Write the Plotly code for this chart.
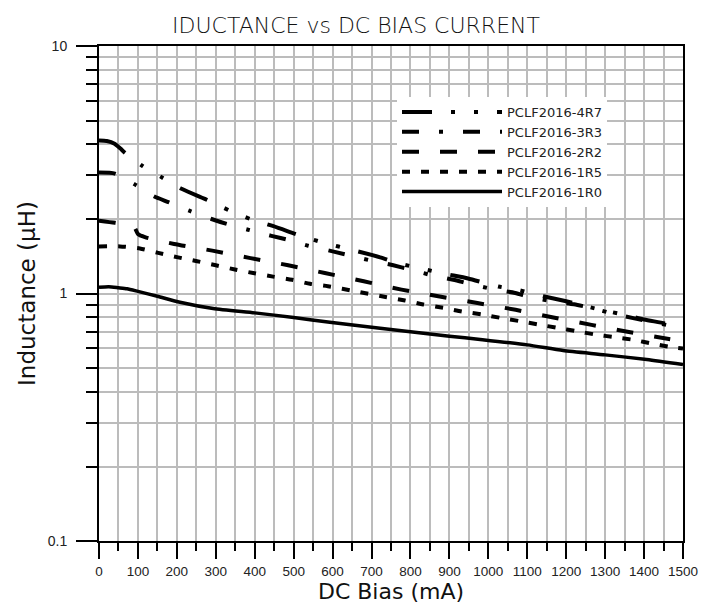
import plotly.graph_objects as go

# ---- data ----
names = ["PCLF2016-4R7", "PCLF2016-3R3", "PCLF2016-2R2", "PCLF2016-1R5", "PCLF2016-1R0"]

x_4r7 = [0, 20, 40, 55, 67, 110, 164, 212, 285, 336, 392, 448, 523, 580, 650, 722, 773, 829, 890, 948, 1026, 1081, 1141, 1200, 1274, 1334, 1400, 1454, 1500]
y_4r7 = [4.15, 4.13, 4.03, 3.85, 3.70, 3.29, 2.93, 2.65, 2.36, 2.16, 1.99, 1.87, 1.70, 1.60, 1.50, 1.40, 1.32, 1.26, 1.20, 1.15, 1.067, 1.03, 0.975, 0.93, 0.87, 0.83, 0.785, 0.757, 0.726]

x_3r3 = [0, 41, 92, 141, 178, 232, 289, 328, 383, 443, 490, 537, 600, 680, 756, 799, 850, 910, 952, 1008, 1069, 1107, 1165, 1220, 1274, 1321, 1381, 1424, 1460, 1500]
y_3r3 = [3.08, 3.05, 2.76, 2.47, 2.34, 2.16, 2.0, 1.91, 1.81, 1.71, 1.64, 1.56, 1.48, 1.38, 1.30, 1.25, 1.19, 1.136, 1.094, 1.044, 1.005, 0.966, 0.93, 0.905, 0.867, 0.828, 0.79, 0.765, 0.745, 0.724]

x_2r2 = [0, 41, 85, 92, 100, 118, 193, 291, 389, 486, 580, 680, 777, 875, 972, 1070, 1167, 1265, 1361, 1460, 1500]
y_2r2 = [1.97, 1.93, 1.87, 1.84, 1.74, 1.69, 1.585, 1.49, 1.39, 1.30, 1.21, 1.12, 1.037, 0.972, 0.915, 0.859, 0.80, 0.747, 0.699, 0.656, 0.64]

x_1r5 = [0, 54, 105, 152, 203, 252, 300, 349, 396, 447, 496, 542, 588, 660, 739, 786, 833, 884, 932, 983, 1030, 1081, 1128, 1176, 1227, 1274, 1325, 1372, 1423, 1471, 1500]
y_1r5 = [1.55, 1.55, 1.52, 1.46, 1.40, 1.35, 1.30, 1.25, 1.21, 1.17, 1.136, 1.094, 1.07, 1.02, 0.966, 0.937, 0.903, 0.875, 0.846, 0.823, 0.798, 0.773, 0.75, 0.727, 0.704, 0.683, 0.666, 0.65, 0.626, 0.607, 0.60]

x_1r0 = [0, 25, 50, 72, 100, 150, 208, 293, 400, 500, 593, 722, 800, 900, 979, 1100, 1192, 1300, 1407, 1500]
y_1r0 = [1.06, 1.065, 1.055, 1.045, 1.02, 0.975, 0.922, 0.87, 0.835, 0.80, 0.765, 0.724, 0.70, 0.672, 0.652, 0.62, 0.588, 0.565, 0.541, 0.516]

y_major = [0.1, 1, 10]
y_major_text = ["0.1", "1", "10"]
y_minor = [0.2, 0.3, 0.4, 0.5, 0.6, 0.7, 0.8, 0.9, 2, 3, 4, 5, 6, 7, 8, 9]

series = [
    (x_4r7, y_4r7, "30px,19px,4px,19px,4px,19px", 4),
    (x_3r3, y_3r3, "17px,20px,4px,20px", 4),
    (x_2r2, y_2r2, "17px,21px", 4),
    (x_1r5, y_1r5, "8px,11px", 4),
    (x_1r0, y_1r0, "solid", 3.5),
]

fig = go.Figure()
for (xs, ys, dash, w), nm in zip(series, names):
    fig.add_trace(go.Scatter(x=xs, y=ys, mode="lines", name=nm,
                             line=dict(color="black", width=w, dash=dash, shape="spline", smoothing=0.6)))

# the page adds an 8px body margin, so the figure is sized/margined to compensate
W, H = 707, 597
grid_col = "#bcbcbc"
fig.update_layout(
    width=W, height=H, autosize=False,
    margin=dict(l=91, r=32, t=38, b=64, autoexpand=False),
    paper_bgcolor="white", plot_bgcolor="white",
    title=dict(text="IDUCTANCE vs DC BIAS CURRENT", x=348 / W, xref="container", y=1 - 17 / H,
               yanchor="middle", xanchor="center", automargin=False,
               font=dict(family="DejaVu Sans", size=22, weight=300, color="#111")),
    showlegend=True,
    legend=dict(x=(397 - 99) / 584, y=(541 - 97) / 495, xanchor="left", yanchor="top",
                bgcolor="white", borderwidth=0, itemwidth=100,
                font=dict(family="DejaVu Sans", size=13, color="#222")),
)
fig.update_xaxes(
    range=[0, 1500], dtick=100, tick0=0, automargin=False,
    showline=True, mirror=True, linecolor="black", linewidth=2,
    ticks="outside", ticklen=16, tickwidth=2, tickcolor="black",
    showgrid=True, gridcolor=grid_col, gridwidth=1.5, zeroline=False,
    minor=dict(dtick=50, tick0=0, ticks="outside", ticklen=8, tickwidth=2, tickcolor="black",
               showgrid=True, gridcolor=grid_col, gridwidth=1.5),
    tickfont=dict(family="Liberation Sans", size=13.5, color="#222"),
    ticklabelstandoff=1,
    title=dict(text="DC Bias (mA)", font=dict(family="DejaVu Sans", size=22, color="#111"), standoff=4),
)
fig.update_yaxes(
    type="log", range=[-1, 1], automargin=False,
    tickvals=y_major, ticktext=y_major_text,
    showline=True, mirror=True, linecolor="black", linewidth=2,
    ticks="outside", ticklen=21, tickwidth=2, tickcolor="black",
    showgrid=True, gridcolor=grid_col, gridwidth=1.5, zeroline=False,
    minor=dict(tickvals=y_minor, ticks="outside", ticklen=11, tickwidth=2, tickcolor="black",
               showgrid=True, gridcolor=grid_col, gridwidth=1.5),
    tickfont=dict(family="Liberation Sans", size=14, color="#222"),
    ticklabelstandoff=6,
    title=dict(text="Inductance (μH)", font=dict(family="DejaVu Sans", size=23, color="#111"), standoff=6),
)
fig.write_html("out.html")
